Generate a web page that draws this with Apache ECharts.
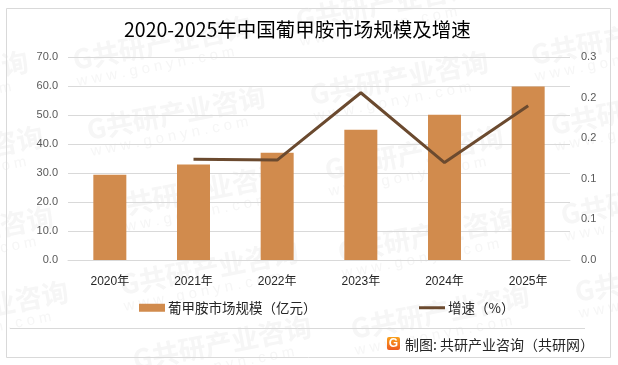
<!DOCTYPE html>
<html>
<head>
<meta charset="utf-8">
<script src="https://cdn.jsdelivr.net/npm/echarts@6/dist/echarts.min.js"></script>
<style>
html, body { margin: 0; padding: 0; background: #fff; }
#chart { width: 618px; height: 365px; }
</style>
</head>
<body>
<div id="chart"></div>
<script>
const years = ['2020年', '2021年', '2022年', '2023年', '2024年', '2025年']
const scaleValues = [29.4, 32.9, 37.0, 44.9, 50.1, 59.8]
const growthValues = [null, 0.124, 0.123, 0.206, 0.12, 0.19]
const rightTickLabels = ['0.0', '0.1', '0.1', '0.2', '0.2', '0.3']
const barName = '葡甲胺市场规模（亿元）'
const lineName = '增速（%）'
const latinCjk = '"Liberation Sans", "Noto Sans CJK SC", sans-serif'

// watermark left ends [x, y], four slanted columns across the page
const marks = [
  [-150, 95], [-135, 170], [-125, 250], [-110, 325],
  [73, 60], [87, 130], [107, 208], [120, 285], [133, 360],
  [296, 20], [310, 95], [325, 170], [338, 252], [351, 329],
  [531, 55], [551, 125], [561, 215], [575, 292]
]

function watermark (x, y) {
  return [
    {
      type: 'text',
      x: x,
      y: y,
      rotation: 0.19,
      z: 0,
      silent: true,
      style: {
        text: 'G共研产业咨询',
        font: 'bold 27px "Noto Sans CJK SC"',
        fill: '#f6f6f6',
        verticalAlign: 'middle'
      }
    },
    {
      type: 'text',
      x: x + 4,
      y: y + 22,
      rotation: 0.19,
      z: 0,
      silent: true,
      style: {
        text: 'w w w . g o n y n . c o m',
        font: '15px "Liberation Sans"',
        fill: '#f6f6f6',
        verticalAlign: 'middle'
      }
    }
  ]
}

const chart = echarts.init(document.getElementById('chart'))
chart.setOption({
  animation: false,
  backgroundColor: '#fff',
  title: {
    text: '2020-2025年中国葡甲胺市场规模及增速',
    left: 124,
    top: 20,
    padding: 0,
    textStyle: {
      fontFamily: '"Noto Sans CJK SC", sans-serif',
      fontSize: 19.5,
      fontWeight: 'normal',
      color: '#000'
    }
  },
  grid: { left: 68, right: 48, top: 57, bottom: 105 },
  legend: {
    left: 139,
    top: 301,
    padding: 0,
    itemWidth: 26,
    itemHeight: 8,
    itemGap: 101,
    data: [
      { name: barName, icon: 'rect' },
      { name: lineName, itemStyle: { opacity: 0 }, lineStyle: { width: 3 } }
    ],
    textStyle: {
      color: '#262626',
      fontFamily: '"Noto Sans CJK SC", sans-serif',
      fontSize: 13.5,
      padding: [0, 0, 0, -2]
    }
  },
  xAxis: {
    type: 'category',
    data: years,
    axisLine: { lineStyle: { color: '#d9d9d9' } },
    axisTick: { show: false },
    axisLabel: { color: '#262626', fontSize: 12, fontFamily: latinCjk, margin: 16 }
  },
  yAxis: [
    {
      type: 'value',
      min: 0,
      max: 70,
      interval: 10,
      axisLabel: {
        color: '#595959',
        fontSize: 11,
        fontFamily: latinCjk,
        margin: 10,
        formatter: (v) => v.toFixed(1)
      },
      splitLine: { lineStyle: { color: '#d9d9d9' } }
    },
    {
      type: 'value',
      min: 0,
      max: 0.25,
      interval: 0.05,
      axisLabel: {
        color: '#595959',
        fontSize: 11,
        fontFamily: latinCjk,
        margin: 11,
        formatter: (v) => rightTickLabels[Math.round(v / 0.05)]
      },
      splitLine: { show: false }
    }
  ],
  series: [
    {
      name: barName,
      type: 'bar',
      data: scaleValues,
      barWidth: 33,
      itemStyle: { color: '#d18b4d' },
      z: 2
    },
    {
      name: lineName,
      type: 'line',
      yAxisIndex: 1,
      data: growthValues,
      symbol: 'none',
      connectNulls: false,
      lineStyle: { color: '#6b4a2f', width: 3 },
      z: 3
    }
  ],
  graphic: [
    ...marks.flatMap((m) => watermark(m[0], m[1])),
    { type: 'rect', shape: { x: 6.5, y: 8.5, width: 604, height: 349 }, silent: true, style: { fill: 'none', stroke: '#d9d9d9', lineWidth: 1 } },
    { type: 'line', shape: { x1: 10, y1: 328.5, x2: 585, y2: 328.5 }, silent: true, style: { stroke: '#d9d9d9', lineWidth: 1 } },
    // logo and source line
    {
      type: 'rect',
      shape: { x: 387, y: 337, width: 13, height: 13, r: 2 },
      silent: true,
      style: {
        fill: new echarts.graphic.LinearGradient(0, 0, 0, 1, [
          { offset: 0, color: '#f9a01b' },
          { offset: 1, color: '#ee5a1f' }
        ])
      }
    },
    { type: 'text', x: 393.5, y: 344, silent: true, style: { text: 'G', font: 'bold 12px "Liberation Sans"', fill: '#fff', align: 'center', verticalAlign: 'middle' } },
    { type: 'text', x: 405, y: 345, silent: true, style: { text: '制图: 共研产业咨询（共研网）', font: '14px "Noto Sans CJK SC"', fill: '#262626', verticalAlign: 'middle' } }
  ]
})
</script>
</body>
</html>
